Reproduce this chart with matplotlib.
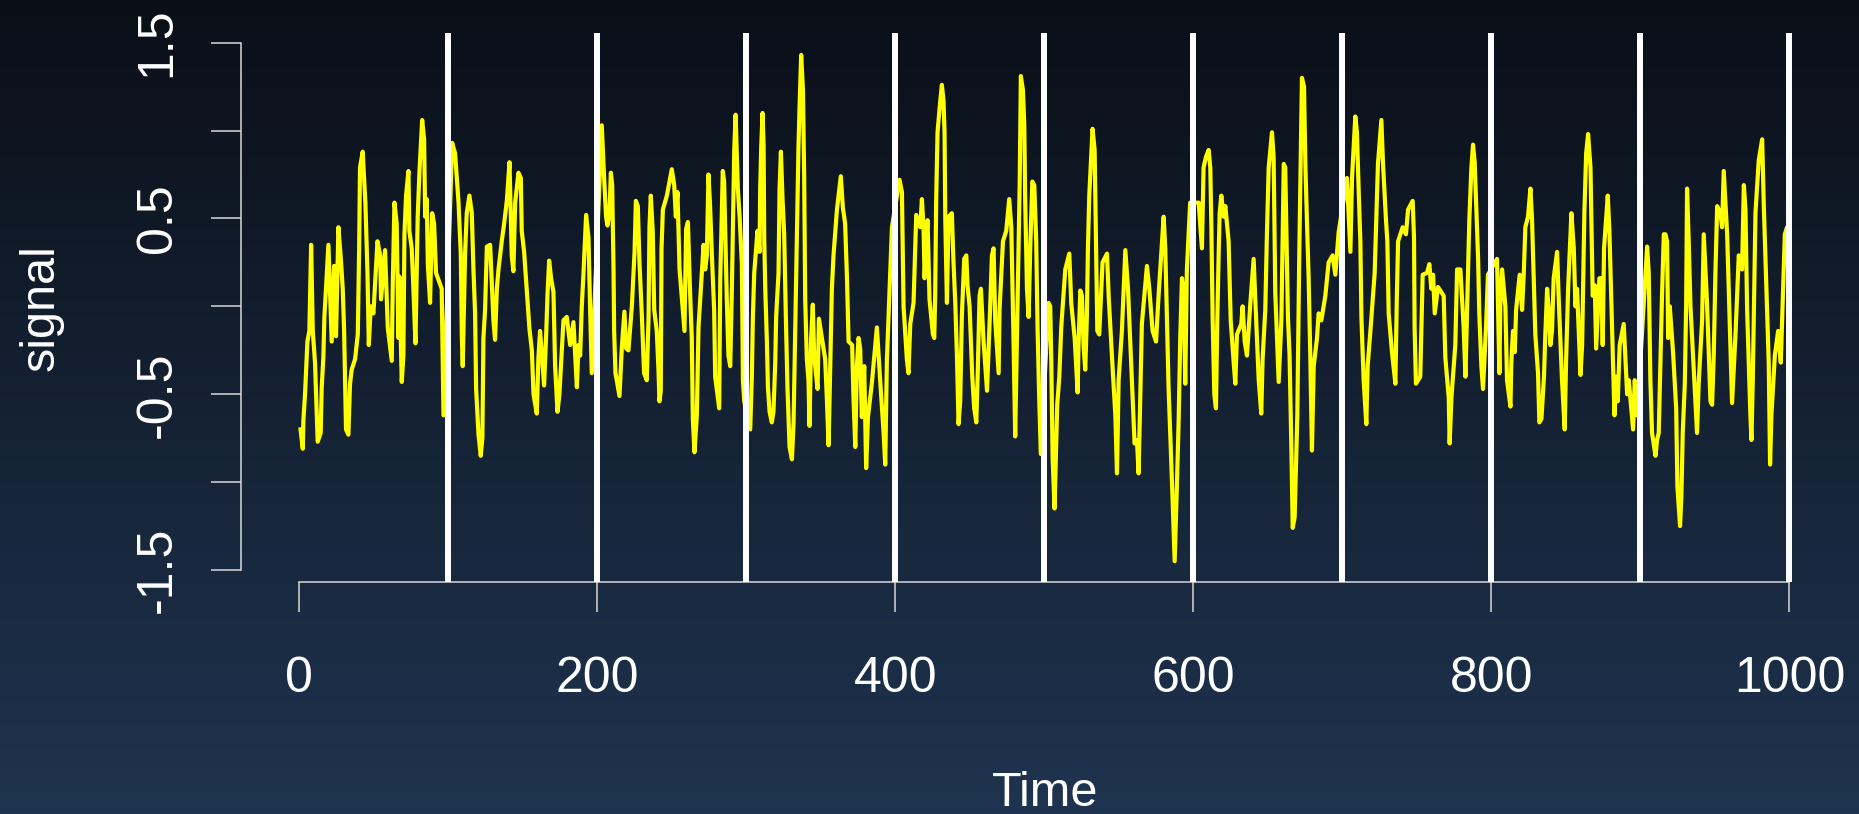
import numpy as np
import matplotlib
matplotlib.use('Agg')
import matplotlib.pyplot as plt
from matplotlib.colors import LinearSegmentedColormap

# values (peaks, troughs and turning points)
time = [
    1.0, 2.5, 2.9, 4.0, 5.6, 6.9, 8.1, 9.2, 10.7, 12.5, 14.5, 15.2, 16.3, 17.0, 17.9, 19.7,
    21.9, 23.5, 24.8, 26.4, 28.2, 29.3, 30.2, 31.5, 33.1, 34.2, 35.3, 37.6, 39.4, 40.3, 40.9,
    42.7, 44.5, 45.9, 46.8, 48.1, 49.9, 51.2, 52.6, 54.4, 55.0, 57.7, 59.5, 62.2, 62.9, 64.0,
    65.5, 66.7, 67.3, 68.9, 70.0, 70.7, 71.8, 73.4, 74.0, 75.6, 76.7, 78.1, 79.6, 80.8, 82.6,
    83.9, 84.6, 85.7, 86.4, 87.9, 89.3, 90.6, 91.9, 95.7, 96.9,
    102.7, 104.7, 107.0, 108.5, 109.2, 109.8, 111.4, 112.5, 114.3, 115.9, 117.0, 118.1, 118.8,
    120.4, 121.9, 123.0, 123.7, 124.8, 126.0, 128.2, 129.3, 130.4, 131.5, 132.7, 133.8, 136.0,
    137.6, 139.4, 141.2, 142.7, 143.8, 145.0, 147.2, 148.8, 149.4, 151.0, 153.2, 154.6, 156.2,
    157.3, 159.5, 160.6, 161.7, 162.8, 164.4, 165.8, 166.7, 167.8, 169.1, 170.7, 171.8, 173.4,
    174.7, 176.3, 177.4, 179.6, 181.9, 184.1, 186.4, 187.5, 188.6, 189.7, 190.8, 192.6, 194.2,
    195.3, 196.4,
    203.1, 204.7, 206.0, 206.9, 208.3, 209.2, 210.1, 211.0, 211.4, 212.3, 215.0, 216.6, 218.3,
    219.5, 221.0, 223.3, 225.1, 226.0, 227.3, 228.4, 230.0, 231.5, 233.3, 234.5, 235.1, 236.0,
    237.3, 238.3, 240.0, 241.2, 241.8, 242.7, 243.2, 244.1, 246.8, 250.1, 251.7, 252.8, 253.9,
    255.3, 257.5, 258.6, 259.7, 260.9, 262.4, 263.5, 264.2, 265.3, 266.9, 268.0, 270.2, 271.4,
    272.5, 273.6, 274.7, 275.8, 277.0, 278.5, 279.2, 281.9, 282.6, 284.3, 285.2, 287.0, 288.1,
    289.3, 290.4, 292.0, 292.9, 294.4, 295.6, 297.1, 297.8, 298.7,
    302.7, 303.8, 304.5, 305.4, 306.7, 307.6, 309.0, 309.4, 310.1, 311.0, 311.7, 312.1, 312.8,
    313.9, 314.6, 315.7, 317.2, 318.3, 319.5, 320.1, 321.7, 322.4, 323.3, 324.4, 325.5, 326.6,
    327.7, 329.1, 330.7, 331.8, 332.9, 334.0, 335.1, 335.8, 336.9, 338.1, 338.9, 339.6, 340.7,
    341.8, 342.5, 343.6, 344.7, 345.6, 347.9, 348.8, 350.8, 353.0, 354.1, 355.3, 356.4, 357.5,
    358.6, 360.9, 363.5, 364.9, 366.4, 367.6, 368.7, 371.1, 372.0, 373.2, 374.3, 375.4, 376.5,
    377.6, 379.2, 380.5, 381.7, 384.3, 387.7, 389.9, 392.2, 393.3, 394.4, 396.6, 397.8,
    402.9, 404.5, 405.6, 407.8, 408.9, 410.1, 412.3, 414.1, 416.8, 417.9, 419.0, 419.7, 420.8,
    421.7, 423.0, 425.3, 426.2, 426.8, 427.5, 428.4, 429.8, 431.3, 432.4, 433.1, 433.6, 434.7,
    435.8, 438.0, 439.1, 440.3, 441.4, 442.5, 443.6, 444.7, 446.3, 447.7, 448.5, 449.9, 451.7,
    453.0, 454.4, 455.3, 456.6, 457.5, 459.3, 461.6, 463.3, 464.9, 466.0, 467.1, 469.4, 470.0,
    472.3, 474.5, 476.5, 477.9, 479.4, 480.5, 482.1, 483.5, 484.3, 485.7, 486.6, 487.2, 488.4,
    489.5, 490.6, 492.0, 493.3, 494.6, 495.5, 496.6, 497.7,
    502.9, 504.0, 504.7, 505.6, 506.9, 507.8, 508.7, 510.1, 511.4, 514.1, 516.8, 518.1, 520.4,
    522.4, 523.0, 524.2, 525.3, 526.4, 527.5, 528.6, 529.3, 530.2, 532.4, 533.8, 534.7, 535.6,
    536.9, 539.1, 542.1, 543.2, 545.4, 547.7, 548.8, 549.9, 552.1, 554.4, 556.2, 558.4, 560.6,
    562.2, 563.3, 564.4, 565.5, 568.9, 570.5, 572.7, 575.0, 576.7, 580.1, 581.2, 583.4, 585.7,
    587.5, 589.0, 590.2, 591.3, 592.4, 593.5, 594.6, 595.7, 597.9,
    603.6, 605.8, 606.9, 608.5, 610.3, 611.4, 612.1, 613.0, 614.1, 615.2, 616.1, 617.0, 617.7,
    618.8, 620.4, 621.5, 623.7, 625.1, 627.1, 628.2, 629.3, 632.2, 633.1, 634.5, 636.0, 638.3,
    640.5, 641.6, 643.9, 645.6, 646.5, 648.3, 649.4, 650.6, 652.8, 653.9, 655.0, 657.3, 659.1,
    660.7, 661.7, 663.5, 664.6, 665.8, 666.7, 668.0, 669.8, 671.1, 672.0, 672.9, 674.3, 675.2,
    676.3, 677.4, 678.5, 679.6, 680.8, 683.0, 684.1, 685.9, 688.6, 690.8, 693.5, 695.3, 697.5,
    703.1, 705.4, 706.5, 708.7, 709.8, 711.0, 712.1, 712.8, 714.3, 716.1, 717.0, 719.2, 721.7,
    722.8, 723.9, 726.2, 727.3, 729.3, 730.2, 731.1, 733.3, 735.6, 736.5, 737.4, 740.5, 742.7,
    744.1, 747.2, 748.1, 748.5, 749.4, 752.3, 753.9, 756.8, 758.4, 759.7, 760.9, 762.0, 764.2,
    768.0, 769.1, 771.4, 772.0, 773.2, 775.8, 777.0, 779.2, 781.4, 782.6, 784.3, 785.2, 786.6,
    787.7, 788.8, 791.1, 791.9, 793.3, 794.4, 796.4, 797.7,
    803.8, 805.4, 806.0, 807.2, 809.4, 810.5, 812.8, 813.4, 814.5, 815.7, 816.6, 819.0, 820.6,
    821.7, 822.8, 824.6, 826.2, 827.3, 828.4, 829.5, 831.3, 832.2, 833.6, 835.3, 836.2, 837.4,
    838.5, 839.6, 840.7, 841.8, 844.1, 845.2, 847.4, 849.2, 850.1, 851.5, 853.7, 855.3, 856.4,
    857.5, 859.8, 860.9, 862.4, 863.6, 864.9, 866.5, 868.0, 869.4, 870.3, 872.5, 873.8, 874.7,
    875.6, 878.1, 879.2, 881.0, 882.6, 883.7, 884.8, 886.1, 888.8, 891.1, 892.2, 895.1, 896.2,
    897.8,
    904.5, 905.6, 906.7, 907.8, 910.1, 911.2, 912.3, 913.4, 914.5, 915.7, 916.8, 917.9, 918.6,
    919.7, 921.9, 924.0, 924.8, 926.6, 927.5, 928.4, 929.8, 930.7, 931.3, 932.4, 933.6, 935.8,
    938.0, 939.1, 941.4, 942.5, 944.7, 947.0, 948.1, 949.2, 950.3, 951.5, 953.7, 954.8, 955.9,
    958.2, 960.4, 961.5, 963.8, 966.0, 968.2, 969.4, 970.5, 971.6, 973.8, 974.5, 975.4, 977.2,
    979.4, 981.7, 982.8, 985.0, 986.1, 987.0, 987.9, 990.2, 992.4, 994.2, 995.1, 996.9, 998.4,
    1000.0,
]
signal = [
    -0.70, -0.81, -0.65, -0.50, -0.20, -0.14, 0.35, -0.14, -0.32, -0.77, -0.72, -0.46, -0.29, -0.06, 0.08, 0.35,
    -0.20, 0.23, -0.17, 0.45, 0.25, 0.10, -0.13, -0.70, -0.73, -0.44, -0.36, -0.30, -0.16, 0.32, 0.79,
    0.88, 0.59, 0.19, -0.22, 0.00, -0.04, 0.16, 0.37, 0.29, 0.04, 0.32, -0.12, -0.31, 0.14, 0.59,
    0.47, -0.18, 0.17, -0.43, -0.28, 0.41, 0.63, 0.77, 0.43, 0.33, 0.10, -0.21, 0.51, 0.77, 1.06,
    0.95, 0.51, 0.61, 0.24, 0.02, 0.53, 0.47, 0.19, 0.10, -0.62,
    0.93, 0.87, 0.59, 0.30, -0.16, -0.34, 0.30, 0.53, 0.63, 0.53, 0.21, -0.04, -0.47,
    -0.73, -0.85, -0.75, -0.18, -0.02, 0.34, 0.35, 0.14, -0.08, -0.19, 0.10, 0.21, 0.37,
    0.47, 0.60, 0.82, 0.29, 0.20, 0.59, 0.76, 0.73, 0.43, 0.31, 0.04, -0.13, -0.25,
    -0.50, -0.61, -0.29, -0.14, -0.26, -0.45, -0.16, 0.07, 0.26, 0.16, 0.08, -0.34, -0.60,
    -0.50, -0.25, -0.08, -0.06, -0.22, -0.09, -0.46, -0.22, -0.28, 0.00, 0.18, 0.52, 0.39,
    -0.02, -0.38,
    1.03, 0.73, 0.51, 0.46, 0.53, 0.76, 0.69, 0.21, -0.14, -0.38, -0.51, -0.23, -0.03,
    -0.24, -0.25, 0.00, 0.31, 0.60, 0.57, 0.25, -0.05, -0.38, -0.42, -0.06, 0.45, 0.63,
    0.43, -0.02, -0.14, -0.37, -0.54, -0.48, 0.33, 0.55, 0.63, 0.78, 0.69, 0.51, 0.65,
    0.21, -0.02, -0.14, 0.44, 0.48, 0.07, -0.18, -0.64, -0.83, -0.62, -0.12, 0.19, 0.35,
    0.21, 0.29, 0.75, 0.57, 0.29, -0.02, -0.40, -0.58, 0.15, 0.77, 0.71, 0.04, -0.28,
    -0.34, 0.10, 0.89, 1.09, 0.67, 0.51, 0.24, -0.42, -0.54,
    -0.70, -0.40, -0.06, 0.19, 0.33, 0.43, 0.31, 0.67, 0.91, 1.10, 0.91, 0.39, 0.10,
    -0.20, -0.46, -0.60, -0.66, -0.60, -0.32, -0.06, 0.19, 0.67, 0.88, 0.61, 0.41, -0.05,
    -0.46, -0.80, -0.87, -0.66, -0.14, 0.41, 0.91, 1.13, 1.43, 1.23, 0.75, 0.04, -0.30,
    -0.42, -0.68, -0.18, 0.01, -0.28, -0.47, -0.07, -0.18, -0.30, -0.52, -0.79, -0.34, 0.10,
    0.29, 0.55, 0.74, 0.56, 0.47, 0.17, -0.20, -0.22, -0.52, -0.80, -0.34, -0.18, -0.24,
    -0.63, -0.34, -0.92, -0.63, -0.44, -0.12, -0.42, -0.72, -0.90, -0.31, 0.19, 0.45,
    0.72, 0.65, 0.00, -0.30, -0.38, -0.10, 0.02, 0.52, 0.45, 0.61, 0.45, 0.16, 0.39,
    0.49, 0.04, -0.16, -0.18, 0.06, 0.61, 0.99, 1.13, 1.26, 1.17, 0.99, 0.49, 0.02,
    0.51, 0.53, 0.25, 0.02, -0.28, -0.67, -0.54, -0.06, 0.27, 0.29, 0.12, 0.00, -0.40,
    -0.58, -0.66, -0.40, 0.06, 0.10, -0.20, -0.48, -0.10, 0.29, 0.33, -0.08, -0.38, -0.02,
    0.37, 0.43, 0.61, 0.45, -0.20, -0.74, 0.02, 0.69, 1.31, 1.23, 1.03, 0.61, 0.10,
    -0.06, 0.33, 0.71, 0.69, 0.37, -0.12, -0.52, -0.84,
    0.02, 0.00, -0.30, -0.86, -1.15, -0.86, -0.56, -0.40, -0.12, 0.21, 0.30, 0.02, -0.18,
    -0.49, -0.22, 0.09, 0.06, -0.23, -0.36, -0.06, 0.33, 0.63, 1.01, 0.89, 0.37, -0.14,
    -0.16, 0.25, 0.30, 0.06, -0.28, -0.62, -0.95, -0.42, -0.14, 0.32, 0.10, -0.34, -0.78,
    -0.76, -0.95, -0.52, -0.10, 0.23, 0.10, -0.14, -0.20, 0.06, 0.51, 0.33, -0.46, -1.00,
    -1.45, -1.02, -0.64, -0.16, 0.16, 0.08, -0.44, 0.21, 0.59,
    0.59, 0.33, 0.79, 0.85, 0.89, 0.79, 0.47, -0.08, -0.50, -0.58, -0.08, 0.29, 0.53,
    0.63, 0.51, 0.57, 0.37, -0.08, -0.32, -0.44, -0.16, -0.10, 0.00, -0.20, -0.28, 0.02,
    0.27, 0.04, -0.42, -0.61, -0.30, -0.02, 0.41, 0.79, 0.99, 0.85, 0.08, -0.43, -0.08,
    0.81, 0.79, -0.06, -0.28, -0.80, -1.26, -1.20, -0.62, 0.29, 0.81, 1.30, 1.25, 0.81,
    0.47, 0.16, -0.28, -0.82, -0.34, -0.18, -0.04, -0.08, 0.06, 0.25, 0.29, 0.18, 0.42,
    0.73, 0.31, 0.73, 1.08, 0.99, 0.65, 0.37, -0.06, -0.42, -0.67, -0.34, -0.10, 0.19,
    0.49, 0.81, 1.06, 0.81, 0.49, 0.37, -0.04, -0.26, -0.44, 0.02, 0.37, 0.45, 0.41,
    0.55, 0.60, 0.39, -0.12, -0.44, -0.40, 0.18, 0.19, 0.24, 0.10, 0.18, -0.04, 0.11,
    0.06, -0.29, -0.52, -0.78, -0.52, -0.22, 0.21, 0.21, -0.12, -0.40, 0.18, 0.49, 0.79,
    0.92, 0.82, 0.27, -0.04, -0.34, -0.47, -0.12, 0.18,
    0.27, -0.38, 0.00, 0.21, 0.00, -0.42, -0.57, -0.32, -0.14, -0.26, -0.02, 0.18, -0.02,
    0.18, 0.45, 0.51, 0.67, 0.49, 0.16, -0.16, -0.38, -0.66, -0.64, -0.40, -0.16, 0.10,
    -0.02, -0.22, -0.14, 0.16, 0.31, 0.04, -0.42, -0.70, -0.32, 0.10, 0.53, 0.33, 0.00,
    0.10, -0.39, -0.22, 0.53, 0.87, 0.98, 0.79, 0.06, 0.12, -0.24, 0.16, 0.16, -0.22,
    0.33, 0.63, 0.43, -0.12, -0.62, -0.40, -0.54, -0.22, -0.10, -0.50, -0.42, -0.70, -0.42,
    -0.62,
    0.34, 0.19, -0.42, -0.72, -0.85, -0.76, -0.72, -0.32, 0.06, 0.41, 0.41, 0.37, -0.18,
    0.00, -0.26, -0.58, -1.02, -1.25, -1.08, -0.72, -0.44, 0.02, 0.67, 0.37, 0.00, -0.36,
    -0.72, -0.44, -0.08, 0.41, 0.02, -0.54, -0.56, -0.28, 0.18, 0.57, 0.53, 0.45, 0.77,
    0.41, -0.22, -0.55, -0.16, 0.29, 0.21, 0.69, 0.55, -0.02, -0.62, -0.76, -0.42, 0.53,
    0.83, 0.95, 0.57, -0.02, -0.32, -0.90, -0.62, -0.28, -0.14, -0.32, -0.08, 0.41, 0.45,
    0.42,
]
breaks = [100, 200, 300, 400, 500, 600, 700, 800, 900, 1000]
x_ticks = [0, 200, 400, 600, 800, 1000]
y_ticks = [-1.5, -1.0, -0.5, 0.0, 0.5, 1.0, 1.5]
y_labels = ['-1.5', '', '-0.5', '', '0.5', '', '1.5']

plt.rcParams['font.family'] = ['Liberation Sans', 'DejaVu Sans']

W, H = 1859, 814
fig = plt.figure(figsize=(W / 100, H / 100), dpi=100)

# dark blue vertical gradient behind everything
bg = fig.add_axes([0, 0, 1, 1], zorder=0)
bg.axis('off')
grad = np.linspace(0, 1, 256).reshape(-1, 1)
cmap = LinearSegmentedColormap.from_list('bg', ['#0a0f17', '#1f3450'])
bg.imshow(grad, aspect='auto', cmap=cmap, extent=[0, 1, 0, 1], origin='upper')

# plot region in pixels: x 241..1849, y 33..582
ax = fig.add_axes([241 / W, 1 - 582 / H, 1608 / W, 549 / H], zorder=1)
ax.patch.set_alpha(0)

ax.plot(time, signal, color='#ffff00', lw=3.0, zorder=2)
for b in breaks:
    ax.axvline(b, color='white', lw=4.3, zorder=3)

ax.set_xlim(-38.96, 1039.96)
ax.set_ylim(-1.568, 1.555)

axis_col = '#d8d8d8'
for side in ['top', 'right']:
    ax.spines[side].set_visible(False)
ax.spines['left'].set_bounds(-1.5, 1.5)
ax.spines['bottom'].set_bounds(0, 1000)
for side in ['left', 'bottom']:
    ax.spines[side].set_color(axis_col)
    ax.spines[side].set_linewidth(1.1)

ax.set_xticks(x_ticks)
ax.set_xticklabels([str(t) for t in x_ticks])
ax.set_yticks(y_ticks)
ax.set_yticklabels(y_labels, rotation=90, ha='center', va='center')
ax.tick_params(axis='both', colors=axis_col, length=21.6, width=1.1, labelsize=36,
               labelcolor='white')
ax.tick_params(axis='x', pad=32)
ax.tick_params(axis='y', pad=38.5)

fig.text(41 / W, 1 - 308 / H, 'signal', rotation=90, ha='center', va='center',
         color='white', fontsize=35)
fig.text(1045 / W, 1 - 793 / H, 'Time', ha='center', va='center',
         color='white', fontsize=35)

fig.savefig('out.png', dpi=100)
